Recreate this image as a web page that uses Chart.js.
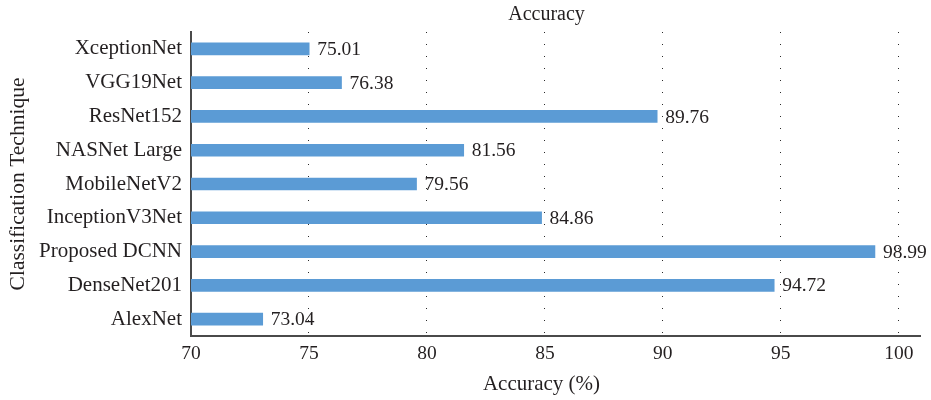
<!DOCTYPE html>
<html>
<head>
<meta charset="utf-8">
<script src="https://cdn.jsdelivr.net/npm/chart.js@4/dist/chart.umd.min.js"></script>
<style>
  html, body { margin: 0; padding: 0; background: #ffffff; }
  #wrap { width: 931px; height: 400px; }
</style>
</head>
<body>
<div id="wrap"><canvas id="chart" width="931" height="400"></canvas></div>
<script>
// Classification techniques, listed top to bottom
const techniques = [
  'XceptionNet', 'VGG19Net', 'ResNet152', 'NASNet Large', 'MobileNetV2',
  'InceptionV3Net', 'Proposed DCNN', 'DenseNet201', 'AlexNet'
];
// Accuracy (%) of each technique
const accuracy = [75.01, 76.38, 89.76, 81.56, 79.56, 84.86, 98.99, 94.72, 73.04];
// Values shown on the accuracy axis
const axisTicks = [70, 75, 80, 85, 90, 95, 100];

const FONT = '"Liberation Serif", "Times New Roman", serif';
const TEXT = '#231f20';
const AXIS = '#4a4a4a';

// Heading above the plot and the accuracy-axis caption below it
const headingPlugin = {
  id: 'heading',
  afterDraw(chart) {
    const { ctx, chartArea } = chart;
    const mid = (chartArea.left + chartArea.right) / 2;
    ctx.save();
    ctx.fillStyle = TEXT;
    ctx.textAlign = 'center';
    ctx.textBaseline = 'middle';
    ctx.font = '20px ' + FONT;
    ctx.fillText('Accuracy', mid - 9, 15);
    ctx.font = '21px ' + FONT;
    ctx.fillText('Accuracy (%)', mid - 14, 384);
    ctx.restore();
  }
};

// Value printed just past the end of each bar
const valueLabelPlugin = {
  id: 'valueLabels',
  afterDatasetsDraw(chart) {
    const { ctx } = chart;
    const meta = chart.getDatasetMeta(0);
    ctx.save();
    ctx.font = '19.5px ' + FONT;
    ctx.fillStyle = TEXT;
    ctx.textAlign = 'left';
    ctx.textBaseline = 'middle';
    meta.data.forEach((bar, i) => {
      ctx.fillText(accuracy[i].toFixed(2), bar.x + 8, bar.y + 1);
    });
    ctx.restore();
  }
};

new Chart(document.getElementById('chart'), {
  type: 'bar',
  data: {
    labels: techniques,
    datasets: [{
      label: 'Accuracy',
      data: accuracy,
      backgroundColor: '#5b9bd5',
      borderWidth: 0,
      barThickness: 12
    }]
  },
  options: {
    indexAxis: 'y',
    responsive: false,
    animation: false,
    layout: { padding: { top: 32, right: 11, left: 1, bottom: 0 } },
    plugins: {
      legend: { display: false },
      tooltip: { enabled: false },
      title: { display: false }
    },
    scales: {
      x: {
        type: 'linear',
        min: 70,
        max: 100.9,
        afterBuildTicks(scale) {
          scale.ticks = axisTicks.map(v => ({ value: v }));
        },
        afterFit(scale) { scale.height = 64; },
        ticks: {
          font: { family: FONT, size: 19.5 },
          color: TEXT,
          padding: 6,
          maxRotation: 0
        },
        grid: {
          drawTicks: false,
          lineWidth: 1,
          color: ctx => (ctx.tick && ctx.tick.value === 70) ? 'rgba(0,0,0,0)' : '#2a2a2a'
        },
        border: { display: true, color: AXIS, width: 2, dash: [1, 11] },
        title: { display: false, text: 'Accuracy (%)' }
      },
      y: {
        type: 'category',
        afterFit(scale) { scale.width = 190; },
        ticks: {
          font: { family: FONT, size: 21 },
          color: TEXT,
          padding: 9
        },
        grid: { display: false, drawTicks: false },
        border: { display: true, color: AXIS, width: 2 },
        title: {
          display: true,
          text: 'Classification Technique',
          font: { family: FONT, size: 21.5 },
          color: TEXT,
          padding: { top: 4, bottom: 4 }
        }
      }
    }
  },
  plugins: [headingPlugin, valueLabelPlugin]
});
</script>
</body>
</html>
